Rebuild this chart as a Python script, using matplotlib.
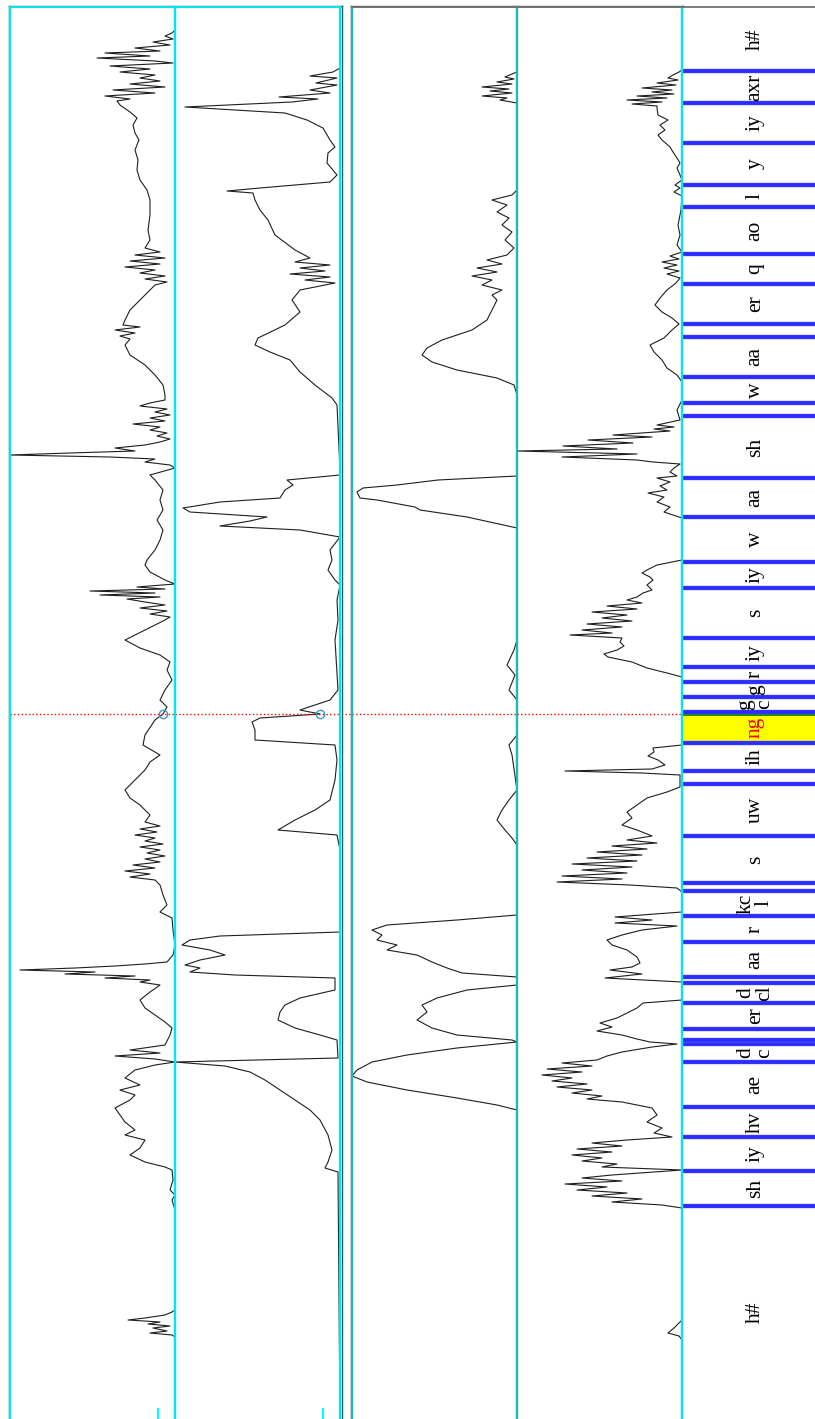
import matplotlib.pyplot as plt
import numpy as np

plt.rcParams['font.family'] = ['Liberation Serif', 'DejaVu Serif']

# ==============================
# phone segmentation (time in frames, counted from the start)
# ==============================
bounds = [0, 213, 248, 282, 312, 357, 375, 379, 390, 416,
          436, 442, 477, 503, 528, 536, 583, 635, 648, 676,
          707, 722, 737, 752, 781, 831, 857, 902, 941, 1003,
          1016, 1042, 1082, 1095, 1135, 1165, 1212, 1234, 1276, 1316,
          1348, 1412]
phones = ['h#', 'sh', 'iy', 'hv', 'ae', 'd\nc', '', '', 'er', 'd\ncl',
          '', 'aa', 'r', 'kc\nl', '', 's', 'uw', '', 'ih', 'ng',
          'g\nc', 'g', 'r', 'iy', 's', 'iy', 'w', 'aa', 'sh', '',
          'w', 'aa', '', 'er', 'q', 'ao', 'l', 'y', 'iy', 'axr',
          'h#']
selected = 'ng'
cursor = 705

# ==============================
# four tracks: frame -> level
# ==============================
t_a = [0, 82, 84, 86, 88, 91, 93, 95, 97, 99, 101, 104, 107, 109, 209, 219, 224, 229, 239, 249,
       252, 257, 264, 271, 279, 284, 289, 297, 304, 311, 319, 324, 329, 334, 341, 349, 354, 357, 360, 363,
       366, 369, 374, 384, 391, 397, 404, 411, 419, 427, 434, 437, 439, 441, 443, 445, 447, 449, 451, 453,
       455, 457, 464, 474, 489, 501, 507, 514, 524, 534, 539, 542, 545, 548, 551, 554, 557, 560, 563, 566,
       569, 572, 575, 578, 581, 584, 587, 590, 593, 597, 604, 614, 621, 629, 639, 649, 657, 664, 674, 684,
       699, 705, 712, 719, 729, 739, 749, 757, 764, 771, 779, 789, 799, 802, 805, 808, 811, 814, 817, 820,
       822, 824, 826, 828, 830, 832, 835, 839, 847, 854, 859, 869, 879, 889, 899, 909, 919, 929, 939, 944,
       951, 954, 957, 960, 962, 964, 966, 968, 971, 974, 977, 980, 983, 986, 989, 992, 995, 998, 1001, 1004,
       1007, 1010, 1013, 1016, 1019, 1024, 1034, 1044, 1054, 1064, 1074, 1080, 1083, 1086, 1089, 1092, 1094, 1099, 1109, 1119,
       1129, 1134, 1137, 1140, 1143, 1146, 1149, 1152, 1155, 1158, 1161, 1164, 1167, 1171, 1179, 1189, 1204, 1219, 1229, 1239,
       1249, 1259, 1269, 1279, 1286, 1294, 1301, 1307, 1314, 1318, 1320, 1323, 1326, 1329, 1332, 1335, 1338, 1341, 1344, 1347,
       1350, 1353, 1356, 1358, 1361, 1363, 1366, 1368, 1371, 1374, 1377, 1380, 1383, 1386, 1389, 1412]
v_a = [0, 0, 3, 25, 8, 22, 5, 27, 15, 47, 30, 10, 3, 0, 0, 3, 0, 5, 2, 3,
       10, 30, 45, 35, 30, 50, 40, 50, 55, 60, 45, 40, 55, 35, 50, 40, 20, 0, 20, 60,
       15, 45, 10, 5, 3, 10, 20, 30, 35, 25, 15, 35, 25, 70, 40, 110, 80, 155, 100, 60,
       30, 8, 2, 0, 2, 3, 15, 8, 12, 15, 20, 45, 25, 50, 20, 42, 15, 30, 10, 28,
       15, 35, 12, 30, 20, 40, 18, 35, 15, 30, 25, 35, 45, 50, 40, 30, 25, 15, 32, 30,
       20, 12, 8, 15, 10, 3, 8, 5, 15, 35, 50, 30, 10, 5, 25, 8, 35, 10, 30, 48,
       15, 75, 20, 85, 10, 38, 0, 10, 25, 30, 28, 20, 15, 12, 18, 12, 15, 12, 20, 25,
       0, 5, 30, 20, 65, 165, 105, 40, 60, 30, 15, 5, 18, 8, 25, 15, 42, 10, 25, 5,
       20, 8, 35, 25, 10, 10, 12, 20, 30, 45, 50, 45, 55, 40, 60, 35, 52, 50, 45, 35,
       25, 20, 8, 30, 10, 35, 20, 50, 15, 45, 10, 40, 15, 30, 25, 27, 25, 25, 28, 35,
       38, 37, 40, 36, 40, 42, 38, 45, 55, 58, 45, 70, 20, 62, 10, 45, 15, 35, 20, 55,
       25, 65, 2, 20, 78, 25, 70, 15, 40, 5, 22, 2, 10, 3, 0, 0]

t_b = [0, 247, 251, 257, 269, 284, 299, 309, 319, 329, 339, 347, 353, 357, 361, 379, 384, 391, 399, 407,
       414, 421, 429, 441, 444, 447, 451, 454, 459, 464, 469, 474, 479, 483, 487, 569, 584, 589, 599, 609,
       619, 639, 659, 674, 679, 689, 697, 701, 705, 709, 714, 719, 729, 779, 799, 819, 834, 839, 849, 859,
       869, 882, 889, 893, 898, 902, 907, 911, 917, 921, 929, 934, 939, 944, 949, 1014, 1021, 1034, 1047, 1059,
       1067, 1074, 1081, 1094, 1107, 1119, 1129, 1133, 1136, 1139, 1142, 1145, 1148, 1151, 1154, 1157, 1161, 1169, 1184, 1199,
       1209, 1219, 1226, 1228, 1231, 1237, 1244, 1256, 1266, 1272, 1279, 1291, 1299, 1306, 1312, 1317, 1320, 1322, 1326, 1329,
       1334, 1336, 1341, 1343, 1347, 1351, 1412]
v_b = [0, 2, 15, 12, 8, 12, 20, 30, 45, 60, 75, 90, 115, 165, 2, 3, 20, 45, 62, 60,
       55, 40, 5, 5, 105, 150, 140, 155, 140, 115, 130, 158, 150, 120, 0, 0, 3, 62, 45, 25,
       10, 5, 3, 5, 85, 85, 88, 80, 20, 40, 25, 10, 2, 5, 2, 3, 0, 5, 12, 8,
       10, 0, 40, 120, 90, 73, 150, 157, 120, 60, 55, 47, 53, 0, 0, 3, 8, 25, 40, 50,
       70, 85, 82, 55, 40, 48, 40, 20, 5, 35, 10, 50, 15, 40, 10, 45, 30, 45, 65, 72,
       80, 85, 87, 113, 80, 10, 3, 13, 12, 5, 10, 17, 33, 55, 155, 48, 22, 61, 10, 30,
       3, 24, 3, 30, 7, 0, 0]

t_c = [0, 309, 314, 321, 329, 337, 343, 349, 357, 364, 371, 377, 379, 384, 391, 399, 407, 414, 421, 429,
       434, 442, 446, 451, 457, 464, 469, 474, 479, 484, 489, 494, 499, 504, 574, 581, 589, 599, 609, 619,
       629, 664, 674, 684, 719, 729, 744, 754, 769, 779, 891, 902, 909, 912, 919, 921, 927, 931, 934, 939,
       943, 1024, 1034, 1041, 1049, 1057, 1064, 1071, 1079, 1089, 1099, 1109, 1119, 1124, 1129, 1134, 1139, 1143, 1147, 1151,
       1155, 1159, 1164, 1171, 1179, 1187, 1194, 1201, 1207, 1214, 1219, 1224, 1229, 1316, 1319, 1321, 1323, 1326, 1328, 1330,
       1332, 1335, 1337, 1340, 1342, 1345, 1347, 1412]
v_c = [0, 0, 20, 60, 110, 150, 165, 160, 145, 110, 60, 0, 5, 60, 85, 100, 90, 95, 80, 50,
       0, 0, 55, 70, 85, 100, 130, 120, 140, 135, 145, 130, 60, 0, 0, 5, 12, 20, 15, 8,
       0, 5, 8, 0, 0, 8, 2, 10, 3, 0, 0, 50, 97, 102, 140, 157, 160, 154, 120, 79,
       0, 0, 3, 20, 60, 85, 95, 90, 75, 45, 30, 25, 20, 25, 15, 35, 25, 45, 20, 40,
       15, 30, 10, 3, 12, 5, 15, 8, 20, 10, 25, 5, 0, 0, 17, 10, 35, 5, 27, 8,
       35, 5, 20, 3, 12, 5, 0, 0]

t_d = [0, 79, 83, 86, 91, 99, 211, 214, 217, 220, 223, 226, 229, 232, 235, 238, 241, 244, 249, 252,
       255, 258, 261, 264, 267, 270, 273, 276, 279, 282, 286, 291, 297, 304, 311, 314, 317, 320, 323, 326,
       329, 332, 335, 338, 341, 344, 347, 350, 353, 356, 359, 363, 367, 372, 375, 377, 380, 384, 388, 392,
       396, 401, 406, 411, 416, 419, 437, 441, 445, 449, 452, 456, 462, 469, 474, 479, 484, 489, 493, 496,
       499, 502, 507, 527, 531, 534, 537, 540, 543, 546, 549, 552, 555, 558, 561, 564, 567, 570, 573, 576,
       579, 583, 589, 594, 601, 607, 614, 621, 627, 632, 644, 646, 648, 650, 654, 659, 663, 667, 671, 674,
       742, 746, 751, 757, 762, 765, 769, 773, 777, 781, 784, 786, 789, 792, 795, 798, 801, 804, 807, 810,
       813, 816, 819, 822, 826, 829, 834, 839, 842, 846, 849, 854, 859, 901, 907, 912, 917, 922, 926, 929,
       933, 937, 941, 943, 947, 951, 955, 957, 959, 962, 965, 968, 970, 973, 976, 979, 982, 984, 986, 988,
       990, 992, 994, 999, 1009, 1019, 1037, 1044, 1051, 1059, 1067, 1074, 1081, 1089, 1095, 1101, 1107, 1114, 1121, 1129,
       1136, 1141, 1145, 1148, 1151, 1154, 1157, 1160, 1163, 1167, 1174, 1184, 1194, 1209, 1223, 1227, 1231, 1234, 1239, 1244,
       1251, 1256, 1261, 1267, 1272, 1279, 1284, 1289, 1294, 1299, 1304, 1311, 1313, 1315, 1317, 1319, 1321, 1323, 1325, 1327,
       1329, 1331, 1334, 1336, 1339, 1341, 1344, 1347, 1349, 1412]
v_d = [0, 0, 3, 14, 8, 0, 0, 20, 70, 40, 90, 55, 105, 75, 117, 60, 100, 70, 0, 80,
       65, 100, 80, 110, 70, 105, 60, 90, 55, 10, 28, 20, 35, 25, 30, 45, 60, 95, 80, 110,
       90, 125, 95, 130, 110, 140, 100, 135, 90, 120, 85, 75, 60, 30, 5, 32, 45, 60, 85, 70,
       82, 65, 55, 45, 39, 0, 0, 77, 40, 72, 50, 42, 45, 55, 70, 75, 60, 40, 5, 67,
       30, 67, 0, 0, 5, 52, 125, 60, 120, 55, 100, 50, 110, 45, 95, 40, 85, 35, 70, 25,
       55, 30, 45, 60, 50, 55, 45, 35, 15, 2, 2, 40, 117, 30, 17, 24, 34, 28, 29, 0,
       0, 15, 35, 50, 74, 78, 65, 58, 62, 60, 112, 70, 100, 60, 95, 50, 80, 55, 90, 45,
       75, 40, 55, 45, 39, 30, 35, 29, 32, 40, 35, 25, 0, 0, 18, 12, 25, 18, 34, 15,
       22, 12, 25, 5, 12, 8, 2, 29, 45, 120, 45, 165, 65, 119, 49, 94, 30, 69, 40, 12,
       28, 8, 25, 2, 5, 0, 0, 5, 15, 20, 28, 32, 18, 10, 3, 10, 20, 27, 22, 15,
       6, 2, 15, 3, 18, 5, 20, 3, 12, 0, 5, 2, 4, 1, 0, 8, 2, 7, 0, 2,
       5, 2, 5, 9, 12, 20, 24, 17, 22, 14, 24, 25, 25, 50, 20, 55, 15, 45, 8, 30,
       10, 40, 6, 25, 4, 14, 9, 3, 0, 0]

# ==============================
# layout (pixels of the 815 x 1419 picture)
# ==============================
W, H = 815, 1419
TOP = 1412 / H
PW = 165
fig = plt.figure(figsize=(W / 100, H / 100), dpi=100)

# outer frames of the two boxes
for x0, x1, col in [(9, 342, '#2a5a5a'), (351, 683, '#555555')]:
    fr = fig.add_axes([x0 / W, 0, (x1 - x0) / W, (1413 / H)])
    fr.set_xticks([])
    fr.set_yticks([])
    fr.spines['bottom'].set_visible(False)
    for s in ['left', 'right', 'top']:
        fr.spines[s].set_color(col)
        fr.spines[s].set_linewidth(1.0)


def track(x0, t, v, edge, top_col, tick=False):
    ax = fig.add_axes([x0 / W, 0, PW / W, TOP])
    ax.set_facecolor('none')
    ax.plot(v, t, color='#1e1e1e', lw=0.8)
    ax.set_xlim(PW, 0)
    ax.set_ylim(0, 1412)
    ax.set_yticks([])
    ax.axhline(cursor, color='red', ls=':', lw=1.0)
    if tick:
        ax.set_xticks([17])
        ax.tick_params(axis='x', direction='in', length=8, width=1.5,
                       color='#00ffff', labelbottom=False)
    else:
        ax.set_xticks([])
    ax.spines['bottom'].set_visible(False)
    for s in ['left', 'right']:
        ax.spines[s].set_color(edge)
        ax.spines[s].set_linewidth(1.6)
    ax.spines['top'].set_color(top_col)
    ax.spines['top'].set_linewidth(1.4)
    return ax


ax_a = track(10, t_a, v_a, '#00e5ee', '#00e5ee', tick=True)
ax_b = track(175, t_b, v_b, '#00e5ee', '#00e5ee', tick=True)
ax_c = track(352, t_c, v_c, '#20b8b0', '#707070')
ax_d = track(517, t_d, v_d, '#20b8b0', '#707070')

# cursor markers on the tracks
for ax, t, v in [(ax_a, t_a, v_a), (ax_b, t_b, v_b)]:
    ax.plot(np.interp(cursor, t, v), cursor, 'o', ms=6, mfc='none',
            mec='#3a9ac0', mew=1.0)
ax_d.plot(-4, cursor - 3, 'o', ms=7, mfc='none', mec='#2040d0', mew=1.0,
          clip_on=False, zorder=5)

# red cursor line across the gap between the boxes
cur = fig.add_axes([10 / W, 0, 672 / W, TOP])
cur.axis('off')
cur.set_ylim(0, 1412)
cur.axhline(cursor, color='red', ls=':', lw=1.0)
cur.set_zorder(-1)

# ==============================
# phone label column
# ==============================
lab = fig.add_axes([682 / W, 0, 133 / W, TOP])
lab.set_xlim(0, 1)
lab.set_ylim(0, 1412)
lab.set_xticks([])
lab.set_yticks([])
for s in ['right', 'bottom']:
    lab.spines[s].set_visible(False)
lab.spines['left'].set_color('#00e5ee')
lab.spines['left'].set_linewidth(1.6)
lab.spines['top'].set_color('#666666')
lab.spines['top'].set_linewidth(1.2)

for i, p in enumerate(phones):
    lo, hi = bounds[i], bounds[i + 1]
    if p == selected:
        lab.axhspan(lo, hi - 3, color='#ffff00', lw=0)
        lab.axhline(hi - 2, color='#008000', lw=2.0)
    lab.text(0.55, (lo + hi) / 2, p, rotation=90, ha='center', va='center',
             fontsize=15.5, linespacing=0.95,
             color='red' if p == selected else 'black')

for b in bounds[1:-1]:
    lab.axhline(b, color='#0000ff', lw=2.8)
    lab.axhline(b, color='#8080ff', lw=4.0, alpha=0.35)

fig.savefig('out.png', dpi=100)
